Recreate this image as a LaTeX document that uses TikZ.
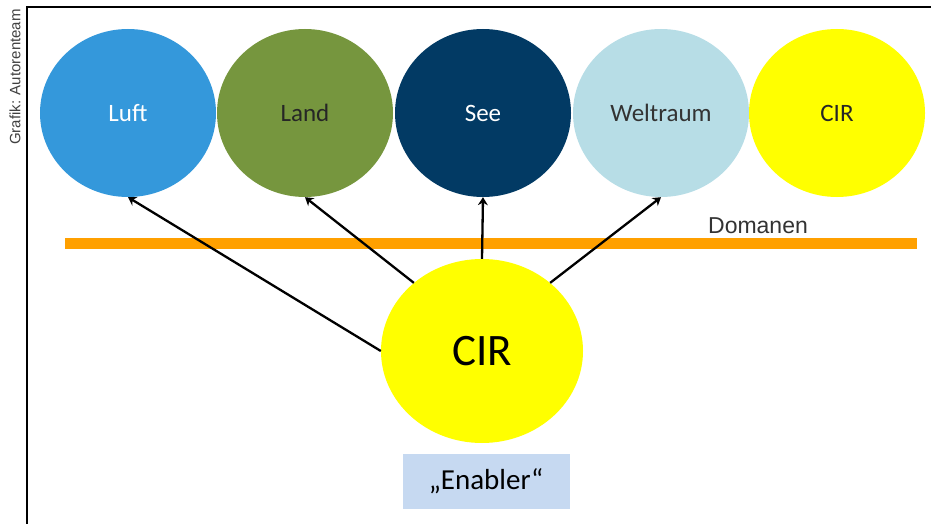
\documentclass[tikz,border=0pt]{standalone}
\usepackage{fontspec}
\setmainfont{Carlito}
\newfontfamily\arialfont{Liberation Sans}
\usetikzlibrary{shapes.geometric, arrows.meta}
\definecolor{luftblue}{RGB}{52,152,219}
\definecolor{landgreen}{RGB}{118,150,62}
\definecolor{seeblue}{RGB}{2,58,100}
\definecolor{spaceblue}{RGB}{183,221,230}
\definecolor{cirgelb}{RGB}{255,255,0}
\definecolor{barorange}{RGB}{255,160,0}
\definecolor{enablerblue}{RGB}{198,217,241}
\begin{document}
\begin{tikzpicture}[x=1pt, y=-1pt,
    domcircle/.style={ellipse, fill=#1, minimum width=176pt, minimum height=168pt, inner sep=0pt, font=\fontsize{25}{30}\selectfont},
    arrow/.style={->, line width=2.3pt, >={Stealth[length=8pt, width=10pt]}}
]
    \useasboundingbox (0,0) rectangle (931,524);
    % frame and source line
    \draw[line width=1.5pt] (27,524) -- (27,7) -- (931,7);
    \node[rotate=90, font=\arialfont\fontsize{15}{18}\selectfont, text=black!75] (credit) at (15,77) {Grafik: Autorenteam};

    \node[domcircle=luftblue, text=white] (luft) at (128,113) {Luft};
    \node[domcircle=landgreen, text=black!85] (land) at (305,113) {Land};
    \node[domcircle=seeblue, text=white] (see) at (483,113) {See};
    \node[domcircle=spaceblue, text=black!80] (welt) at (661,113) {Weltraum};
    \node[domcircle=cirgelb, text=black!85] (cirdom) at (837,113) {CIR};

    % domain bar
    \coordinate (barL) at (65,243);
    \coordinate (barR) at (917,243);
    \draw[line width=11pt, barorange] (barL) -- (barR);
    \node[font=\arialfont\fontsize{23}{27}\selectfont, text=black!80] (dom) at (758,226) {Domanen};

    \node[ellipse, fill=cirgelb, minimum width=202pt, minimum height=184pt, inner sep=0pt, font=\fontsize{45}{54}\selectfont] (cir) at (482,351) {CIR};
    \node[fill=enablerblue, minimum width=167pt, minimum height=55pt, inner sep=0pt, font=\fontsize{29}{34}\selectfont] (enab) at (486,481) {„Enabler“};

    \draw[arrow] (cir.west) -- (luft.south);
    \draw[arrow] (cir.135) -- (land.south);
    \draw[arrow] (cir.north) -- (see.south);
    \draw[arrow] (cir.45) -- (welt.south);
\end{tikzpicture}
\end{document}
